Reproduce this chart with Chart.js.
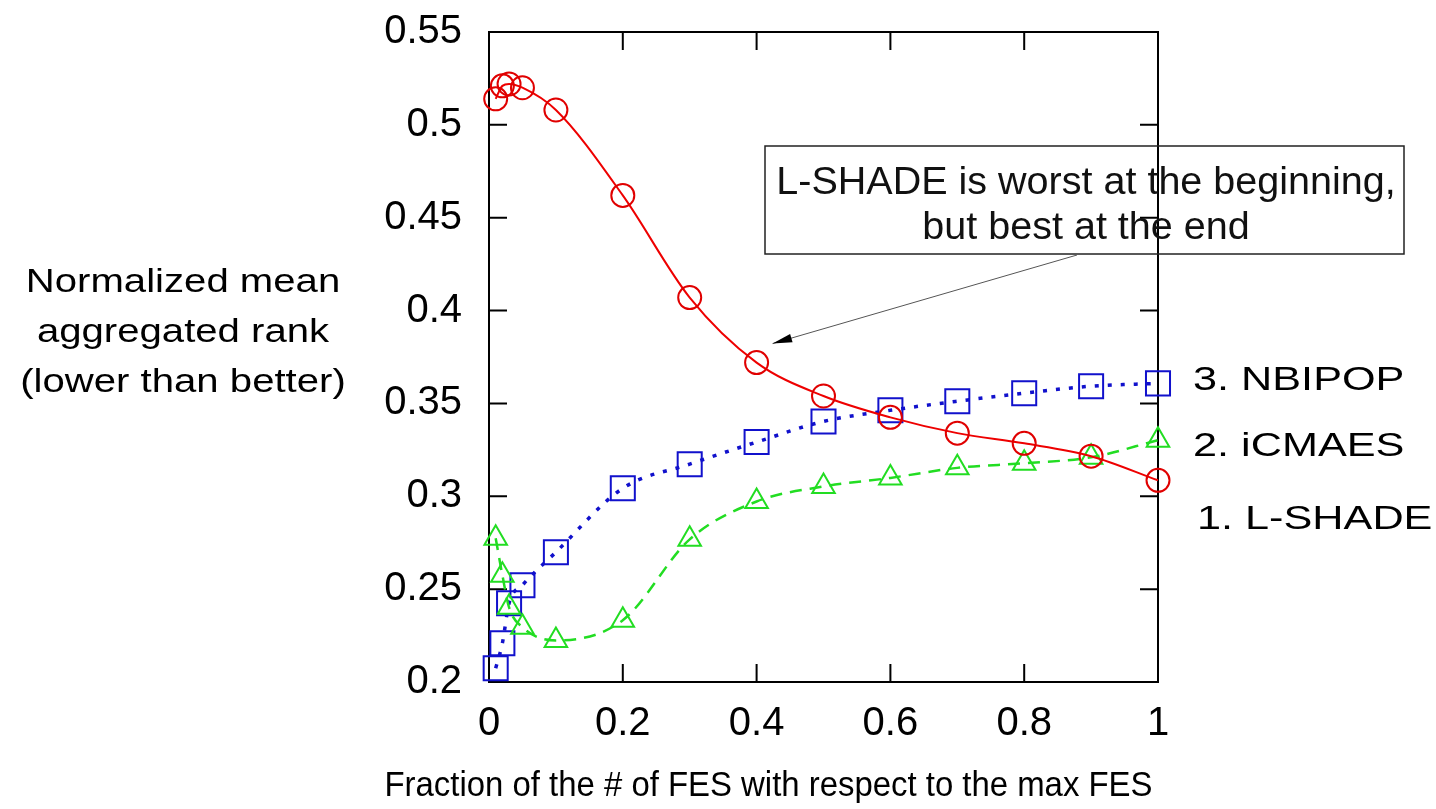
<!DOCTYPE html>
<html>
<head>
<meta charset="utf-8">
<script src="https://cdn.jsdelivr.net/npm/chart.js@4.4.1/dist/chart.umd.min.js"></script>
<style>
  html, body { margin: 0; padding: 0; background: #fff; }
  #wrap { width: 1436px; height: 809px; }
</style>
</head>
<body>
<div id="wrap"><canvas id="rankChart" width="1436" height="809"></canvas></div>
<script>
// fraction of max FES where the ranks were taken
const fesFraction = [0.01, 0.02, 0.03, 0.05, 0.1, 0.2, 0.3, 0.4, 0.5, 0.6, 0.7, 0.8, 0.9, 1.0];
const lshadeRank = [0.514, 0.521, 0.522, 0.520, 0.508, 0.462, 0.407, 0.372, 0.354, 0.3425, 0.334, 0.3285, 0.3216, 0.3086];
const icmaesRank = [0.2774, 0.2575, 0.2402, 0.2295, 0.2224, 0.2333, 0.2768, 0.2972, 0.3053, 0.3099, 0.3153, 0.3178, 0.321, 0.3302];
const nbipopRank = [0.2074, 0.2209, 0.2424, 0.2521, 0.2699, 0.3043, 0.3173, 0.3292, 0.3403, 0.3463, 0.3512, 0.3555, 0.3593, 0.3608];

const xTicks = [0, 0.2, 0.4, 0.6, 0.8, 1];
const yTicks = [0.2, 0.25, 0.3, 0.35, 0.4, 0.45, 0.5, 0.55];

const xTitle = 'Fraction of the # of FES with respect to the max FES';
const yTitleLines = ['Normalized mean', 'aggregated rank', '(lower than better)'];
const finalLabels = ['3. NBIPOP', '2. iCMAES', '1. L-SHADE'];
const noteLines = ['L-SHADE is worst at the beginning,', 'but best at the end'];

const FONT = "'Liberation Sans', Arial, sans-serif";

function fmtTick(v) {
  return String(parseFloat(v.toFixed(2)));
}

// text scaled horizontally so it matches the original's wide/narrow lettering
function drawText(ctx, text, x, y, size, sx, align) {
  ctx.save();
  ctx.font = size + 'px ' + FONT;
  ctx.textAlign = align || 'left';
  ctx.textBaseline = 'alphabetic';
  ctx.translate(x, y);
  ctx.scale(sx, 1);
  ctx.fillText(text, 0, 0);
  ctx.restore();
}

const framePlugin = {
  id: 'frame',
  beforeDatasetsDraw(chart) {
    const { ctx, chartArea: a, scales } = chart;
    ctx.save();
    ctx.strokeStyle = '#000';
    ctx.lineWidth = 2;
    ctx.strokeRect(a.left, a.top, a.right - a.left, a.bottom - a.top);
    // inward tick marks, mirrored on top and right
    ctx.beginPath();
    xTicks.forEach(v => {
      const px = scales.x.getPixelForValue(v);
      ctx.moveTo(px, a.bottom); ctx.lineTo(px, a.bottom - 18);
      ctx.moveTo(px, a.top); ctx.lineTo(px, a.top + 18);
    });
    yTicks.forEach(v => {
      const py = scales.y.getPixelForValue(v);
      ctx.moveTo(a.left, py); ctx.lineTo(a.left + 18, py);
      ctx.moveTo(a.right, py); ctx.lineTo(a.right - 18, py);
    });
    ctx.stroke();
    ctx.restore();
  },
  afterDraw(chart) {
    const { ctx, chartArea: a, scales } = chart;
    ctx.save();
    ctx.fillStyle = '#000';

    // y title (three lines, left of the tick labels)
    yTitleLines.forEach((line, i) => {
      drawText(ctx, line, 183, 292 + i * 50, 34, 1.18, 'center');
    });

    // x title
    drawText(ctx, xTitle, (a.left + a.right) / 2 - 55, 796, 35, 0.94, 'center');

    // final ranking labels at the right
    const labelY = [390, 456, 529];
    finalLabels.forEach((t, i) => {
      drawText(ctx, t, a.right + (i === 2 ? 39 : 35), labelY[i], 33, 1.31, 'left');
    });

    // annotation box
    ctx.strokeStyle = '#222';
    ctx.lineWidth = 1.5;
    ctx.strokeRect(765, 146, 639, 108);
    ctx.fillStyle = '#111';
    drawText(ctx, noteLines[0], 1086, 194, 38, 1.04, 'center');
    drawText(ctx, noteLines[1], 1086, 239, 38, 1.04, 'center');

    // arrow to the L-SHADE curve
    const tipX = scales.x.getPixelForValue(fesFraction[7]) + 16;
    const tipY = scales.y.getPixelForValue(lshadeRank[7]) - 19;
    const sX = 1077, sY = 255;
    ctx.strokeStyle = '#555';
    ctx.lineWidth = 1;
    ctx.beginPath();
    ctx.moveTo(sX, sY);
    ctx.lineTo(tipX, tipY);
    ctx.stroke();
    const ang = Math.atan2(tipY - sY, tipX - sX);
    ctx.fillStyle = '#000';
    ctx.beginPath();
    ctx.moveTo(tipX, tipY);
    ctx.lineTo(tipX - 20 * Math.cos(ang - 0.22), tipY - 20 * Math.sin(ang - 0.22));
    ctx.lineTo(tipX - 20 * Math.cos(ang + 0.22), tipY - 20 * Math.sin(ang + 0.22));
    ctx.closePath();
    ctx.fill();
    ctx.restore();
  }
};

function series(values) {
  return fesFraction.map((f, i) => ({ x: f, y: values[i] }));
}

const ctx = document.getElementById('rankChart').getContext('2d');
new Chart(ctx, {
  type: 'line',
  data: {
    datasets: [
      {
        label: 'L-SHADE',
        data: series(lshadeRank),
        borderColor: '#ee0000',
        borderWidth: 2,
        pointStyle: 'circle',
        pointRadius: 11.5,
        pointBorderWidth: 2,
        pointBorderColor: '#e00000',
        pointBackgroundColor: 'rgba(0,0,0,0)',
        cubicInterpolationMode: 'monotone',
        fill: false,
        clip: false
      },
      {
        label: 'iCMAES',
        data: series(icmaesRank),
        borderColor: '#22dd22',
        borderWidth: 2.5,
        borderDash: [12, 8],
        pointStyle: 'triangle',
        pointRadius: 13,
        pointBorderWidth: 2,
        pointBorderColor: '#22dd22',
        pointBackgroundColor: 'rgba(0,0,0,0)',
        cubicInterpolationMode: 'monotone',
        fill: false,
        clip: false
      },
      {
        label: 'NBIPOP',
        data: series(nbipopRank),
        borderColor: '#1111cc',
        borderWidth: 3.5,
        borderDash: [4, 9],
        pointStyle: 'rect',
        pointRadius: 17,
        pointBorderWidth: 2,
        pointBorderColor: '#1111cc',
        pointBackgroundColor: 'rgba(0,0,0,0)',
        cubicInterpolationMode: 'monotone',
        fill: false,
        clip: false
      }
    ]
  },
  options: {
    responsive: false,
    animation: false,
    layout: { padding: { left: 0, top: 32, right: 278, bottom: 0 } },
    plugins: {
      legend: { display: false },
      tooltip: { enabled: false }
    },
    scales: {
      x: {
        type: 'linear',
        min: 0,
        max: 1,
        grid: { display: false, drawTicks: false },
        border: { display: false },
        afterBuildTicks: s => { s.ticks = xTicks.map(v => ({ value: v })); },
        afterFit: s => {
          s.height = 127;
          s.paddingLeft = 0;
          s.paddingRight = 0;
        },
        ticks: {
          padding: 18,
          color: '#000',
          font: { family: FONT, size: 40 },
          maxRotation: 0,
          callback: v => fmtTick(v)
        }
      },
      y: {
        type: 'linear',
        min: 0.2,
        max: 0.55,
        grid: { display: false, drawTicks: false },
        border: { display: false },
        afterBuildTicks: s => { s.ticks = yTicks.map(v => ({ value: v })); },
        afterFit: s => {
          s.width = 489;
          s.paddingTop = 0;
          s.paddingBottom = 0;
        },
        ticks: {
          padding: 27,
          color: '#000',
          font: { family: FONT, size: 40 },
          callback: v => fmtTick(v)
        }
      }
    }
  },
  plugins: [framePlugin]
});
</script>
</body>
</html>
